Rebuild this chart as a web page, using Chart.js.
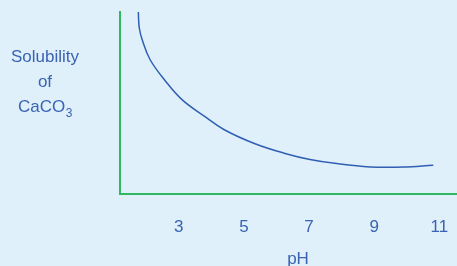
<!DOCTYPE html>
<html>
<head>
<meta charset="utf-8">
<script src="https://cdn.jsdelivr.net/npm/chart.js@4/dist/chart.umd.min.js"></script>
<style>
  html, body { margin: 0; padding: 0; background: #dff0fb; }
  #wrap { width: 457px; height: 266px; }
</style>
</head>
<body>
<div id="wrap"><canvas id="solChart"></canvas></div>
<script>
// pH values along the curve and relative solubility (0-100)
const phValues = [1.758, 1.788, 1.88, 2.117, 2.577, 3.09, 3.805, 4.397, 5.34, 6.26, 7.028, 7.847, 8.869, 9.891, 10.812];
const solubility = [100, 91.2, 84.6, 73.9, 62.4, 52.0, 42.5, 35.3, 27.6, 22.3, 19.0, 16.7, 14.9, 14.8, 15.8];
const xTicks = [3, 5, 7, 9, 11];
const xTitle = 'pH';
const yLabelLines = ['Solubility', 'of', 'CaCO'];

const textBlue = '#3a64b2';
const axisGreen = '#2fb85e';
const curveBlue = '#2f5fb3';
const FONT = '"Liberation Sans", Arial, sans-serif';

Chart.defaults.font.family = FONT;
Chart.defaults.color = textBlue;

// draws the stacked y axis label (with subscript 3) and the pH title
const labelPlugin = {
    id: 'labels',
    afterDraw(chart) {
        const ctx = chart.ctx;
        ctx.save();
        ctx.fillStyle = textBlue;
        ctx.font = '17px ' + FONT;
        ctx.textBaseline = 'alphabetic';
        ctx.textAlign = 'center';
        ctx.fillText(yLabelLines[0], 45, 62);
        ctx.fillText(yLabelLines[1], 45, 87);
        ctx.fillText(xTitle, 298, 264);
        const w = ctx.measureText(yLabelLines[2]).width;
        ctx.font = '12px ' + FONT;
        const subW = ctx.measureText('3').width;
        const startX = 45 - (w + subW) / 2;
        ctx.textAlign = 'left';
        ctx.font = '17px ' + FONT;
        ctx.fillText(yLabelLines[2], startX, 112);
        ctx.font = '12px ' + FONT;
        ctx.fillText('3', startX + w + 0.5, 116.5);
        ctx.restore();
    }
};

const ctx = document.getElementById('solChart').getContext('2d');
new Chart(ctx, {
    type: 'line',
    data: {
        datasets: [{
            data: phValues.map((x, i) => ({ x, y: solubility[i] })),
            borderColor: curveBlue,
            borderWidth: 1.5,
            pointRadius: 0,
            fill: false,
            tension: 0.4
        }]
    },
    options: {
        responsive: true,
        maintainAspectRatio: false,
        animation: false,
        layout: { padding: { top: 12, left: 0, right: 0, bottom: 0 } },
        plugins: { legend: { display: false }, tooltip: { enabled: false } },
        scales: {
            x: {
                type: 'linear',
                min: 1.196,
                max: 11.54,
                afterBuildTicks: (scale) => { scale.ticks = xTicks.map(v => ({ value: v })); },
                afterFit: (scale) => {
                    scale.height = 72;
                    scale.paddingLeft = 0;
                    scale.paddingRight = 0;
                },
                grid: { display: false, drawTicks: false },
                border: { display: true, color: axisGreen, width: 2 },
                ticks: { padding: 23, font: { size: 17 }, color: textBlue, maxRotation: 0 }
            },
            y: {
                min: 0,
                max: 100,
                afterFit: (scale) => { scale.width = 120; },
                grid: { display: false, drawTicks: false },
                border: { display: true, color: axisGreen, width: 2 },
                ticks: { display: false }
            }
        }
    },
    plugins: [labelPlugin]
});
</script>
</body>
</html>
